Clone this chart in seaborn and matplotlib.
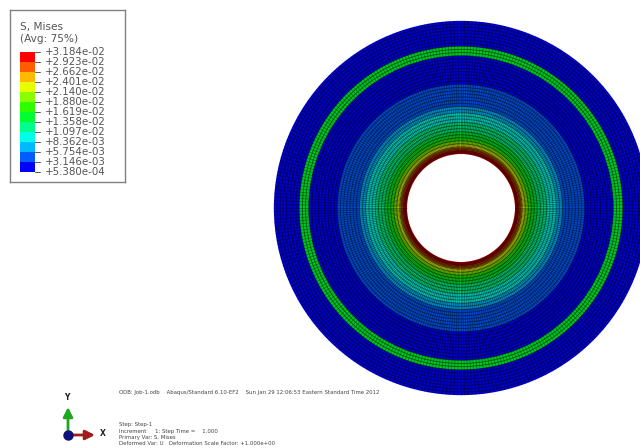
import numpy as np
import seaborn as sns
import matplotlib
matplotlib.use('Agg')
import matplotlib.pyplot as plt
from matplotlib.colors import ListedColormap, BoundaryNorm
from matplotlib.collections import LineCollection
from matplotlib.patches import Circle, FancyArrowPatch

# contour legend, top to bottom
level_labels = ['+3.184e-02', '+2.923e-02', '+2.662e-02', '+2.401e-02',
                '+2.140e-02', '+1.880e-02', '+1.619e-02', '+1.358e-02',
                '+1.097e-02', '+8.362e-03', '+5.754e-03', '+3.146e-03',
                '+5.380e-04']
level_values = [float(x) for x in level_labels]
band_colors = ['#ff0000', '#ff5d00', '#ffb900', '#e8ff00', '#8bff00', '#2eff00',
               '#00ff2e', '#00ff8b', '#00ffe8', '#00b9ff', '#005dff', '#0000ff']

# element rings, inner edge to outer edge: radial size and mises stress
ring_width = [1.2] * 6 + [3.0] * 5 + [3.17] * 35
ring_stress = [3.15e-2, 3.10e-2, 3.00e-2, 2.90e-2, 2.80e-2, 2.60e-2,
               2.30e-2, 2.00e-2, 1.75e-2, 1.55e-2, 1.40e-2,
               1.30e-2, 1.20e-2, 1.12e-2, 1.00e-2, 0.92e-2, 0.86e-2, 0.72e-2,
               0.60e-2, 0.52e-2, 0.48e-2, 0.45e-2, 0.42e-2, 0.40e-2, 0.38e-2,
               0.35e-2, 0.20e-2, 0.20e-2, 0.20e-2, 0.20e-2, 0.20e-2, 0.20e-2,
               0.20e-2, 0.20e-2, 0.20e-2,
               1.55e-2, 1.55e-2, 1.55e-2,
               0.20e-2, 0.20e-2, 0.20e-2, 0.20e-2, 0.20e-2, 0.20e-2, 0.20e-2,
               0.20e-2]
inner_radius = 54
n_sectors = 320

header_line = ('ODB: Job-1.odb    Abaqus/Standard 6.10-EF2    '
               'Sun Jan 29 12:06:53 Eastern Standard Time 2012')
step_lines = ['Step: Step-1',
              'Increment     1: Step Time =    1.000',
              'Primary Var: S, Mises',
              'Deformed Var: U   Deformation Scale Factor: +1.000e+00']

sns.set_theme(style='white')
W, H = 640, 448
fig = plt.figure(figsize=(W / 100, H / 100), dpi=100)


def fx(x):
    return x / W


def fy(y):
    return 1 - y / H


# the disc, axes cover the whole figure and 1 unit is 1 px
ax = fig.add_axes([0, 0, 1, 1])
cmap = ListedColormap(sns.color_palette(band_colors[::-1]))
norm = BoundaryNorm(level_values[::-1], cmap.N)
edges = inner_radius + np.concatenate([[0], np.cumsum(ring_width)])
# the mesh in the screenshot looks duller than the key, so shade the fill a bit
shade = 0.78
# stacked discs from the outside in, so no seams between the rings
for outer, val in zip(edges[:0:-1], ring_stress[::-1]):
    rgb = np.array(cmap(norm(val))[:3]) * shade
    ax.add_patch(Circle((0, 0), outer, facecolor=rgb, edgecolor='none'))
ax.add_patch(Circle((0, 0), inner_radius, facecolor='white', edgecolor='none'))
# mesh lines
for rad in edges[1:-1]:
    ax.add_patch(Circle((0, 0), rad, fill=False, edgecolor='black',
                        lw=0.65, alpha=0.5))
theta = np.linspace(0, 2 * np.pi, n_sectors, endpoint=False)
spokes = [[(edges[0] * np.cos(t), edges[0] * np.sin(t)),
           (edges[-1] * np.cos(t), edges[-1] * np.sin(t))] for t in theta]
ax.add_collection(LineCollection(spokes, colors='black', linewidths=0.55, alpha=0.4))
ax.set_xlim(-461, 179)
ax.set_ylim(-240, 208)
ax.axis('off')

# legend frame
frame = fig.add_axes([fx(9.5), fy(182), fx(115), 172 / H])
frame.set_xticks([])
frame.set_yticks([])
frame.patch.set_alpha(0)
for s in frame.spines.values():
    s.set_color('#808080')
    s.set_linewidth(1.0)

fig.text(fx(20), fy(27), 'S, Mises', fontsize=7.6, color='#555555', va='center')
fig.text(fx(20), fy(39), '(Avg: 75%)', fontsize=7.6, color='#555555', va='center')

# color key
key = fig.add_axes([fx(20), fy(172), fx(15), 120 / H])
sns.heatmap(np.arange(12)[:, None], cmap=ListedColormap(band_colors), cbar=False,
            ax=key, xticklabels=False, yticklabels=False)
key.set_xlabel('')
key.set_ylabel('')

for i, lab in enumerate(level_labels):
    y = 52 + i * 10
    fig.add_artist(plt.Line2D([fx(35), fx(40)], [fy(y), fy(y)],
                              color='#555555', lw=0.7))
    fig.text(fx(45), fy(y), lab, fontsize=7.4, color='#555555', va='center')

# bottom info text
fig.text(fx(119), fy(392), header_line, fontsize=3.9, color='#444444', va='center')
for y, line in zip([424, 431, 437, 443], step_lines):
    fig.text(fx(119), fy(y), line, fontsize=3.9, color='#444444', va='center')

# triad
ox, oy = fx(68), fy(435)
fig.add_artist(FancyArrowPatch(
    (ox, oy), (fx(95), oy), transform=fig.transFigure, color='#a01c1c',
    arrowstyle='-|>', mutation_scale=14, lw=2, shrinkA=0, shrinkB=0))
fig.add_artist(FancyArrowPatch(
    (ox, oy), (ox, fy(407)), transform=fig.transFigure, color='#1fa81f',
    arrowstyle='-|>', mutation_scale=14, lw=2, shrinkA=0, shrinkB=0))
fig.add_artist(plt.Line2D([ox], [oy], marker='o', ms=6.5, color='#10107a'))
fig.text(fx(67), fy(398), 'Y', fontsize=5.5, fontweight='bold', color='#222222',
         ha='center', va='center')
fig.text(fx(103), fy(433), 'X', fontsize=5.5, fontweight='bold', color='#222222',
         ha='center', va='center')

fig.savefig('out.png', dpi=100, facecolor='white')
